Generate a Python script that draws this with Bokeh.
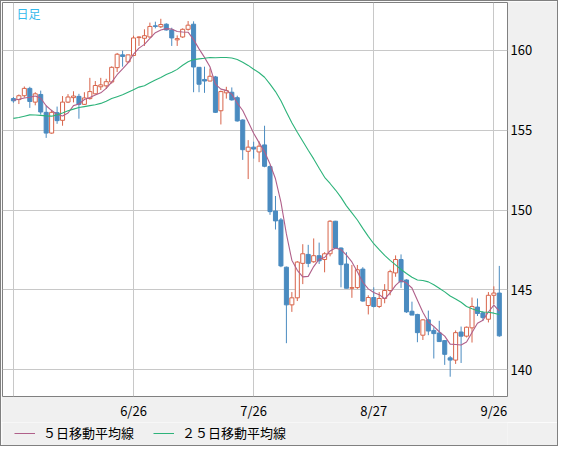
import numpy as np
import pandas as pd
from bokeh.plotting import figure
from bokeh.layouts import column
from bokeh.models import (ColumnDataSource, Range1d, FixedTicker, Legend, LegendItem, Label)
from bokeh.embed import file_html
from bokeh.resources import INLINE

# ---- data ----
start_date = "2024-05-27"
end_date = "2024-09-27"
tick_labels = ["6/26", "7/26", "8/27", "9/26"]
grid_labels = ["5/27", "6/26", "7/26", "8/27", "9/26"]
y_ticks = [140, 145, 150, 155, 160]

opens = [156.98, 156.92, 157.16, 157.62, 156.76, 157.24, 156.12, 154.82, 156.10, 155.62,
         156.76, 157.04, 157.12, 156.62, 156.98, 157.28, 157.72, 157.78, 158.02, 158.92,
         159.72, 159.28, 159.68, 160.80, 160.76, 160.84, 161.54, 161.48, 161.64, 161.28,
         160.66, 160.84, 161.32, 161.64, 158.94, 158.18, 158.08, 158.34, 156.22, 157.34,
         157.38, 157.04, 155.64, 153.68, 153.94, 153.64, 154.08, 152.72, 149.94, 149.38,
         146.42, 144.06, 144.50, 146.66, 147.22, 146.76, 147.14, 146.90, 147.26, 149.30,
         147.62, 146.62, 145.10, 145.14, 146.30, 144.02, 144.52, 143.96, 144.46, 144.96,
         146.06, 146.90, 145.62, 143.66, 143.46, 142.16, 143.12, 142.46, 142.30, 141.82,
         140.74, 140.60, 142.36, 142.10, 142.62, 143.92, 143.56, 143.16, 144.66, 144.80]
highs = [157.08, 157.24, 157.74, 157.72, 157.38, 157.48, 156.54, 156.28, 156.48, 157.14,
         157.26, 157.44, 157.28, 157.38, 158.28, 158.08, 158.28, 158.22, 159.00, 159.84,
         159.98, 159.74, 160.92, 160.88, 161.32, 161.74, 161.80, 161.98, 161.70, 161.42,
         160.94, 161.38, 161.84, 161.82, 158.94, 158.98, 158.86, 158.40, 157.48, 157.72,
         157.68, 157.16, 155.68, 154.38, 154.28, 154.30, 155.28, 152.80, 150.88, 149.50,
         146.46, 144.86, 146.80, 147.86, 147.82, 148.22, 147.96, 147.36, 149.36, 149.32,
         147.66, 147.36, 146.56, 146.56, 146.42, 144.66, 145.16, 144.86, 145.36, 146.26,
         147.16, 147.22, 145.66, 144.26, 143.50, 143.16, 143.70, 142.66, 143.06, 141.86,
         140.86, 142.46, 142.70, 142.70, 144.52, 144.46, 143.66, 144.86, 145.22, 146.50]
lows = [156.72, 156.64, 157.04, 156.40, 156.56, 155.98, 154.52, 154.78, 155.40, 155.28,
        156.70, 156.74, 155.72, 156.58, 156.92, 157.24, 157.52, 157.58, 157.92, 158.64,
        158.98, 159.22, 159.64, 160.28, 160.28, 160.80, 161.38, 161.40, 161.24, 160.28,
        160.28, 160.78, 161.24, 157.38, 157.38, 157.34, 158.06, 156.08, 155.36, 156.98,
        156.85, 155.54, 153.14, 151.94, 153.22, 153.00, 152.68, 149.70, 148.78, 146.42,
        141.66, 143.62, 144.30, 145.36, 146.42, 146.70, 146.62, 146.10, 147.10, 147.62,
        145.16, 145.10, 144.50, 145.06, 144.26, 143.46, 143.90, 143.86, 144.16, 144.66,
        145.82, 145.12, 143.56, 143.42, 141.72, 141.86, 142.16, 140.70, 141.76, 140.30,
        139.56, 140.36, 140.42, 142.02, 141.70, 143.36, 143.06, 142.96, 144.10, 142.06]
closes = [156.84, 157.16, 157.62, 156.80, 157.28, 156.14, 154.82, 156.12, 155.60, 156.76,
          157.08, 157.14, 156.62, 157.02, 157.42, 157.80, 157.84, 158.04, 158.94, 159.76,
          159.62, 159.72, 160.78, 160.84, 160.92, 161.50, 161.50, 161.62, 161.28, 160.78,
          160.74, 161.32, 161.58, 158.96, 157.88, 158.08, 158.38, 156.12, 157.42, 157.48,
          156.90, 155.58, 153.78, 153.94, 153.82, 154.00, 152.74, 149.90, 149.32, 146.50,
          144.06, 144.50, 146.74, 147.26, 146.66, 147.14, 146.82, 147.26, 149.30, 147.62,
          146.58, 145.10, 145.14, 146.26, 144.30, 144.52, 143.96, 144.46, 144.96, 146.14,
          146.90, 145.50, 143.62, 143.42, 142.32, 143.12, 142.42, 142.26, 141.76, 140.96,
          140.60, 142.32, 142.10, 142.66, 143.96, 143.52, 143.26, 144.66, 144.80, 142.12]
# moving-average values before enough closes are available
ma5_head = [156.88, 156.94, 157.02, 157.06]
ma25_head = [155.74, 155.80, 155.88, 155.96, 155.95, 155.93, 155.90, 155.88, 155.96, 156.08,
             156.22, 156.32, 156.42, 156.48, 156.54, 156.60, 156.68, 156.82, 156.98, 157.10,
             157.22, 157.38, 157.54, 157.70]

legend_labels = ["５日移動平均線", "２５日移動平均線"]
title_text = "日足"

# ---- derived ----
dates = pd.bdate_range(start_date, end_date)
date_str = [f"{d.month}/{d.day}" for d in dates]
idx = np.arange(len(closes))
o = np.array(opens); h = np.array(highs); l = np.array(lows); c = np.array(closes)
cs = pd.Series(c)
ma5 = cs.rolling(5).mean().to_numpy()
ma5[:len(ma5_head)] = ma5_head
ma25 = cs.rolling(25).mean().to_numpy()
ma25[:len(ma25_head)] = ma25_head

UP_COLOR = "#d8644a"
DOWN_COLOR = "#4a8bc0"
MA5_COLOR = "#b0608a"
MA25_COLOR = "#2db37a"
PANEL = "#f0f0f0"
up = c >= o
src = ColumnDataSource(dict(
    x=idx, o=o, h=h, l=l, c=c,
    top=np.maximum(o, c), bottom=np.minimum(o, c),
    line=[UP_COLOR if u else DOWN_COLOR for u in up],
    fill=["white" if u else DOWN_COLOR for u in up],
))

W = 556
H_MAIN, H_LEG = 421, 23
RIGHT, BOTTOM = 50, 24
FRAME_W, FRAME_H = W - RIGHT - 1, H_MAIN - BOTTOM - 1
X0, X1 = -2.0, 90.5
Y0, Y1 = 138.32, 163.0

p = figure(width=W, height=H_MAIN, output_backend="svg", toolbar_location=None,
           x_range=Range1d(X0, X1), y_range=Range1d(Y0, Y1),
           y_axis_location="right", min_border_left=1, min_border_top=1,
           min_border_right=RIGHT, min_border_bottom=BOTTOM,
           background_fill_color="white", border_fill_color=PANEL,
           outline_line_color="#808080", outline_line_width=1)

tick_idx = [i for i, s in enumerate(date_str) if s in tick_labels]
grid_idx = [i for i, s in enumerate(date_str) if s in grid_labels]

p.xaxis.ticker = FixedTicker(ticks=tick_idx)
p.xaxis.major_label_overrides = {i: date_str[i] for i in tick_idx}
p.xgrid.ticker = FixedTicker(ticks=grid_idx)
p.yaxis.ticker = FixedTicker(ticks=y_ticks)
p.ygrid.ticker = FixedTicker(ticks=y_ticks)
for g in (p.xgrid, p.ygrid):
    g.grid_line_color = "#c8c8c8"
    g.grid_line_width = 1
for ax in (p.xaxis, p.yaxis):
    ax.axis_line_color = None
    ax.major_tick_line_color = None
    ax.minor_tick_line_color = None
    ax.major_tick_out = 0
    ax.major_tick_in = 0
    ax.major_label_text_font = "Noto Sans CJK JP"
    ax.major_label_text_font_size = "13px"
    ax.major_label_text_color = "#000000"
p.xaxis.major_label_standoff = 4
p.yaxis.major_label_standoff = 3

p.segment(x0="x", y0="h", x1="x", y1="l", source=src, line_color="line", line_width=1)
p.vbar(x="x", top="top", bottom="bottom", width=0.74, source=src,
       fill_color="fill", line_color="line", line_width=1)

p.line(idx, ma5, line_color=MA5_COLOR, line_width=1.1)
p.line(idx, ma25, line_color=MA25_COLOR, line_width=1.1)

px_x = (X1 - X0) / FRAME_W
px_y = (Y1 - Y0) / FRAME_H
p.add_layout(Label(x=X0 + 14 * px_x, y=Y1 - 3 * px_y, text=title_text,
                   text_font="Noto Sans CJK JP", text_font_size="12px",
                   text_color="#35b9ec", text_baseline="top", text_align="left"))

# ---- legend strip below the chart ----
q = figure(width=W, height=H_LEG, output_backend="svg", toolbar_location=None,
           x_range=Range1d(1000, 1001), y_range=Range1d(1000, 1001),
           min_border=0, background_fill_color=PANEL, border_fill_color=PANEL,
           outline_line_color=None)
q.axis.visible = False
q.grid.visible = False
k5 = q.line(idx, ma5, line_color=MA5_COLOR, line_width=1)
k25 = q.line(idx, ma25, line_color=MA25_COLOR, line_width=1)
legend = Legend(items=[LegendItem(label=legend_labels[0], renderers=[k5]),
                       LegendItem(label=legend_labels[1], renderers=[k25])],
                orientation="horizontal", location=(12, 3))
legend.border_line_color = None
legend.background_fill_alpha = 0
legend.label_text_font = "Noto Sans CJK JP"
legend.label_text_font_size = "13px"
legend.label_text_color = "#000000"
legend.glyph_width = 21
legend.glyph_height = 14
legend.label_height = 14
legend.label_standoff = 8
legend.spacing = 19
legend.padding = 2
legend.margin = 0
q.add_layout(legend, "center")

layout = column(p, q, spacing=0, styles={"border": "1px solid #808080"})
open("out.html", "w").write(file_html(layout, INLINE))
